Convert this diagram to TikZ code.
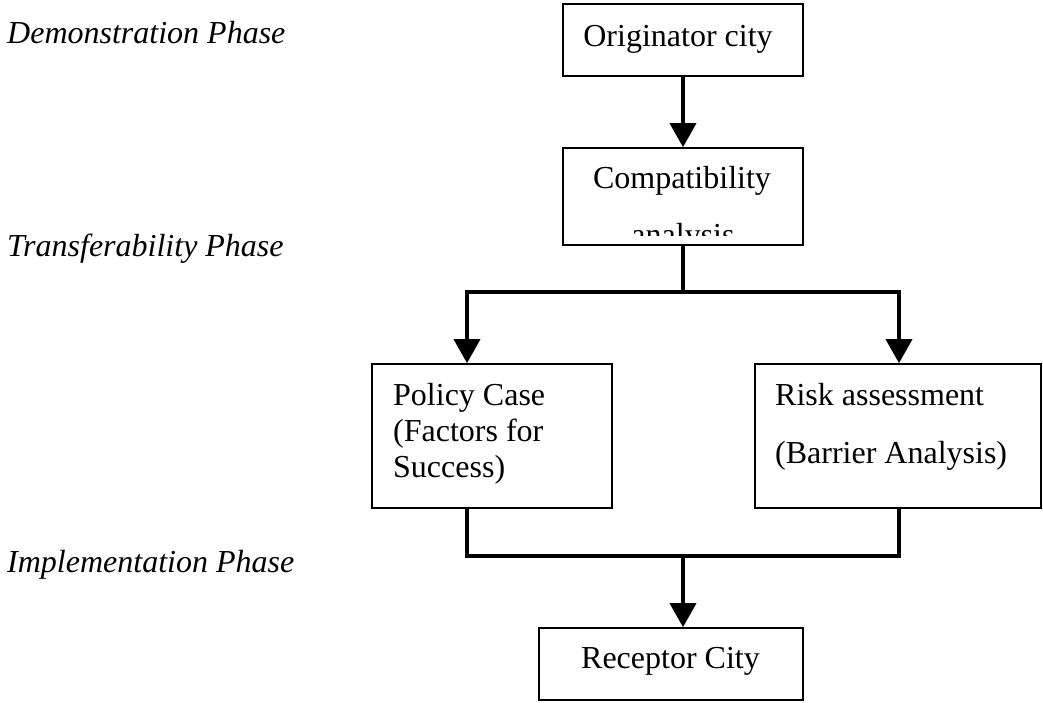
\documentclass[tikz,border=0pt]{standalone}
\usepackage{fontspec}
\setmainfont{Liberation Serif}
\usetikzlibrary{arrows.meta}
\begin{document}
\begin{tikzpicture}[x=1pt,y=-1pt,
  box/.style={draw, line width=1.6pt, inner sep=0pt, rectangle},
  txt/.style={inner sep=0pt, font=\fontsize{32}{36}\selectfont},
  phase/.style={inner sep=0pt, anchor=base west, font=\fontsize{32}{36}\selectfont\itshape},
  conn/.style={line width=3.6pt, line join=miter},
  tip/.style={-{Triangle[length=24pt,width=26pt]}}]
\useasboundingbox (0,0) rectangle (1043,702);
\fill[white] (0,0) rectangle (1043,702);
% phase labels
\node[phase] (ph1) at (7,43) {Demonstration Phase};
\node[phase] (ph2) at (7,256) {Transferability Phase};
\node[phase] (ph3) at (7,572) {Implementation Phase};
% boxes
\node[box, minimum width=240pt, minimum height=72pt] (orig) at (683,40) {};
\node[txt, anchor=base] (origt) at (678,46) {Originator city};
\node[box, minimum width=240pt, minimum height=97pt] (comp) at (683,196.5) {};
\node[txt, anchor=base] (compt) at (682,188) {Compatibility};
\begin{scope}
  \clip (563,148) rectangle (803,235);
  \node[txt, anchor=base] (compt2) at (683,245) {analysis};
\end{scope}
\node[box, minimum width=240pt, minimum height=144pt] (policy) at (492,436) {};
\node[txt, anchor=base west] (pol1) at (393,405) {Policy Case};
\node[txt, anchor=base west] (pol2) at (393,441) {(Factors for};
\node[txt, anchor=base west] (pol3) at (393,477) {Success)};
\node[box, minimum width=286pt, minimum height=144pt] (risk) at (898,436) {};
\node[txt, anchor=base west] (risk1) at (775,405) {Risk assessment};
\node[txt, anchor=base west] (risk2) at (775,463) {(Barrier Analysis)};
\node[box, minimum width=264pt, minimum height=72pt] (recv) at (671,664) {};
\node[txt, anchor=base] (recvt) at (670.5,668) {Receptor City};
% junctions
\coordinate (jt) at (683,292);
\coordinate (jl) at (467,292);
\coordinate (jr) at (899,292);
\coordinate (jb) at (683,556);
% connectors
\draw[conn, tip] (orig.south) -- (comp.north);
\draw[conn] (comp.south) -- (jt);
\draw[conn, tip] (jt) -| (policy.north -| jl);
\draw[conn, tip] (jt) -| (risk.north -| jr);
\draw[conn] (policy.south -| jl) |- (jb) -| (risk.south -| jr);
\draw[conn, tip] (jb) -- (recv.north -| jb);
\end{tikzpicture}
\end{document}
